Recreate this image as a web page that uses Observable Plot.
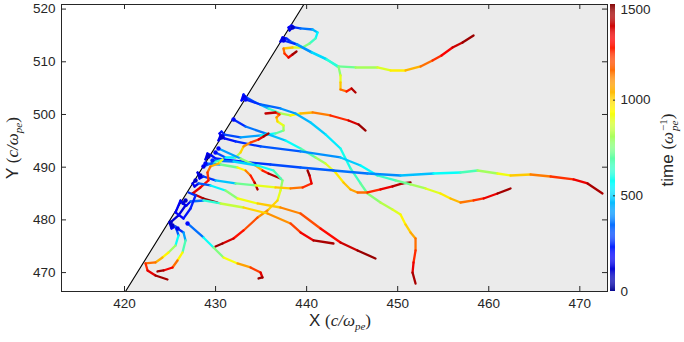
<!DOCTYPE html>
<html><head><meta charset="utf-8">
<script src="https://cdn.jsdelivr.net/npm/d3@7"></script>
<script src="https://cdn.jsdelivr.net/npm/@observablehq/plot@0.6"></script>
<style>
body{margin:0;background:#fff;}
#wrap{position:relative;width:684px;height:342px;overflow:hidden;font-family:"Liberation Sans",Arial,sans-serif;color:#262626;}
#wrap svg{position:absolute;top:0;overflow:visible;}
.lab{position:absolute;white-space:nowrap;font-size:17px;line-height:19px;}
.m{font-family:"Liberation Serif","Times New Roman",serif;font-size:17px;}
.i{font-style:italic;}
.sub{font-size:11px;position:relative;top:4px;}
.stack{display:inline-block;vertical-align:middle;font-size:11px;line-height:11px;text-align:left;margin-left:1px;}
.stack span{display:block;}
</style></head>
<body>
<div id="wrap"></div>
<script>
// axis settings
const xDomain = [413.08, 473.04];
const yDomain = [466.41, 520.87];
const xTicks = [420, 430, 440, 450, 460, 470];
const yTicks = [470, 480, 490, 500, 510, 520];
const cTicks = [0, 500, 1000, 1500];
const timeDomain = [0, 1500];

// boundary line (right side shaded)
const boundaryX = [420.11, 439.69];
const boundaryY = [466.41, 520.87];

// jet colormap stops
const jetStops = [0, 187.5, 562.5, 937.5, 1312.5, 1500];
const jetColors = ["#00008f", "#0000ff", "#00ffff", "#ffff00", "#ff0000", "#800000"];

// trajectories: [x, y, time]
const trajA = [[438.45,516.51,100],[438.12,515.94,130],[438.01,516.51,160],[438.34,516.89,190],[438.67,516.51,220],[439.33,516.32,300],[440.65,516.13,420],[441.20,515.56,500],[440.98,514.42,600],[440.32,513.47,700],[439.55,512.71,800],[438.45,512.71,950],[437.46,512.52,1100],[437.57,511.57,1200],[438.01,510.82,1300],[438.45,511.39,1400],[438.89,511.96,1500]];
const trajB = [[437.46,514.23,100],[437.13,513.85,130],[437.35,514.61,160],[437.79,514.42,200],[438.23,513.85,300],[439.00,513.28,400],[440.43,511.95,480],[442.07,510.62,560],[443.39,509.11,680],[445.37,508.92,760],[447.78,508.92,850],[449.21,508.35,920],[450.86,508.35,1000],[452.51,509.11,1100],[453.82,510.25,1200],[454.81,511.20,1280],[456.02,512.71,1360],[457.12,513.66,1420],[458.33,514.99,1500]];
const trajC = [[437.46,514.04,150],[438.89,513.28,350],[440.54,511.77,450],[442.18,510.44,560],[443.50,509.11,680],[443.72,507.40,850],[443.72,506.07,950],[443.72,504.74,1100],[444.38,504.37,1200],[444.93,504.93,1350],[445.37,504.17,1500]];
const trajD = [[430.76,495.82,150],[430.43,496.40,180],[430.65,496.77,210],[430.98,496.20,240],[432.74,495.64,350],[434.94,496.02,500],[436.58,496.40,650],[437.46,496.96,750],[437.46,497.91,850],[436.80,498.67,950],[436.69,499.43,1050],[437.02,500.00,1150],[436.58,500.38,1300],[435.48,500.19,1500]];
const trajE = [[433.18,503.22,150],[432.85,502.66,180],[433.07,503.80,210],[433.40,503.22,240],[434.39,502.28,350],[435.81,501.14,550],[437.13,500.19,750],[438.23,499.81,880],[439.33,500.19,1000],[440.65,500.38,1080],[442.62,499.81,1180],[444.60,498.86,1330],[445.70,498.10,1420],[446.47,496.96,1500]];
const trajF = [[433.29,502.85,200],[434.94,501.90,300],[437.13,501.14,380],[438.78,500.19,430],[440.43,498.48,470],[442.07,496.21,510],[443.72,493.55,560],[444.82,489.76,620],[445.92,486.91,680],[446.69,485.01,740],[448.11,483.30,800],[449.43,481.97,860],[450.31,481.03,920],[450.86,479.13,980],[451.41,477.61,1030],[451.96,476.47,1100],[451.96,474.19,1200],[451.74,471.91,1300],[451.63,470.01,1380],[451.96,467.92,1500]];
const trajG = [[429.22,492.03,100],[428.89,491.46,130],[429.11,492.60,160],[429.55,492.22,190],[429.99,491.65,220],[432.74,491.08,250],[436.03,490.51,280],[439.33,489.94,310],[442.95,489.37,340],[446.69,488.80,370],[450.31,488.42,420],[453.93,488.80,520],[456.90,488.99,620],[458.77,489.37,720],[460.96,488.80,880],[462.39,488.42,950],[464.59,488.61,1080],[466.79,488.23,1180],[469.31,487.67,1300],[470.85,486.91,1380],[472.49,485.01,1500]];
const trajH = [[430.65,495.64,100],[430.32,495.07,130],[430.54,496.02,160],[430.98,495.45,190],[432.19,494.88,230],[434.94,493.93,280],[439.33,492.98,350],[443.72,491.84,450],[445.92,490.32,520],[447.78,488.42,600],[449.76,487.48,680],[451.41,486.72,760],[453.06,485.96,850],[454.70,485.01,930],[455.80,484.06,1000],[456.90,483.30,1080],[458.33,483.68,1200],[459.43,484.06,1280],[460.96,485.01,1400],[462.39,485.96,1500]];
const trajI = [[431.97,499.05,200],[433.29,497.72,300],[435.48,496.40,420],[437.68,495.07,520],[439.33,493.55,620],[440.98,491.84,750],[442.07,490.70,850],[443.17,488.99,930],[444.05,487.10,1000],[444.82,485.77,1050],[445.59,485.20,1100],[446.69,485.20,1200],[448.11,485.77,1300],[449.43,486.34,1380],[450.53,486.91,1450],[451.41,487.10,1500]];
const trajJ = [[428.34,488.42,100],[428.02,488.99,130],[428.24,487.86,160],[428.67,488.23,190],[429.99,487.48,350],[432.19,486.91,600],[434.39,486.53,850],[436.58,486.15,950],[438.23,485.96,1080],[439.55,486.15,1200],[440.54,486.91,1300],[440.32,488.42,1400],[440.10,489.37,1500]];
const trajK = [[429.99,492.79,200],[431.09,491.84,400],[432.19,491.84,700],[432.74,492.79,950],[433.07,493.93,1050],[433.84,494.69,1150],[434.72,495.26,1300],[435.27,495.82,1400],[435.81,496.40,1500]];
const trajM = [[428.67,490.13,150],[429.77,490.89,500],[430.76,491.46,800],[430.32,490.70,1000],[429.44,490.13,1100],[429.11,488.99,1200],[429.22,487.48,1270],[428.34,486.15,1330],[427.47,485.01,1380],[428.67,484.06,1440],[430.21,483.30,1500]];
const trajL = [[427.80,487.48,100],[427.47,486.91,130],[427.69,486.34,160],[428.13,486.91,190],[429.44,486.53,450],[431.09,485.58,650],[432.41,484.06,880],[434.61,483.11,950],[437.13,482.35,1080],[439.33,481.21,1150],[441.52,478.37,1250],[443.72,475.71,1350],[445.59,474.19,1430],[447.56,472.68,1500]];
const trajN = [[426.70,483.68,100],[426.37,483.11,130],[426.81,482.73,160],[427.25,483.49,190],[428.67,483.68,500],[430.54,483.11,750],[433.07,482.35,950],[435.70,481.21,1050],[438.23,479.32,1150],[439.33,477.61,1280],[440.76,476.09,1380],[442.95,475.52,1500]];
const trajP = [[429.66,491.27,250],[431.97,491.08,450],[434.61,490.32,550],[436.36,489.37,620],[437.35,487.48,720],[437.13,485.58,850],[436.80,483.68,950],[435.70,481.78,1050],[434.61,480.45,1150],[433.07,477.99,1250],[431.97,476.47,1330],[430.76,475.52,1420],[429.99,474.95,1500]];
const trajQ = [[425.27,478.94,100],[424.94,479.51,130],[425.16,478.37,160],[425.60,478.75,190],[425.93,477.04,450],[425.60,475.14,700],[424.83,473.81,900],[424.17,472.87,1000],[423.40,471.92,1100],[422.31,471.73,1200],[422.53,470.40,1300],[423.40,469.45,1400],[424.72,468.69,1500]];
const trajR = [[425.82,478.37,150],[426.48,477.61,350],[426.70,476.09,500],[426.37,473.81,850],[425.82,472.30,1050],[425.27,470.96,1250],[424.28,470.40,1400],[423.62,470.21,1500]];
const trajS = [[426.92,479.32,200],[428.67,476.66,500],[429.77,474.76,650],[430.87,472.87,850],[432.41,471.73,1000],[433.84,470.97,1150],[434.94,470.02,1300],[435.15,469.07,1420],[434.72,468.88,1500]];
const trajT = [[428.89,490.70,200],[430.54,490.51,600],[432.41,489.94,850],[433.29,489.37,1050],[433.84,488.42,1200],[434.28,487.10,1350],[434.61,485.77,1500]];
const trajU = [[430.32,493.55,200],[432.74,491.65,650],[434.39,490.32,900],[435.15,489.37,1200],[435.81,488.80,1350],[437.13,487.86,1500]];
const trajV = [[425.05,479.51,100],[425.93,480.84,120],[426.70,482.73,140],[426.15,483.68,160],[425.60,481.41,180],[426.48,480.27,200],[427.25,482.16,220],[427.80,484.63,240],[427.03,485.20,260]];

const trajectories = [trajA, trajB, trajC, trajE, trajF, trajD, trajI, trajH, trajG, trajK, trajU, trajT, trajP, trajJ, trajM, trajL, trajN, trajS, trajR, trajQ, trajV];

const segs = trajectories.flatMap(tr => tr.slice(1).map((p, i) => ({
  x1: tr[i][0], y1: tr[i][1], x2: p[0], y2: p[1], t: (tr[i][2] + p[2]) / 2
})));
const starts = trajectories.map(tr => tr[0]);
const boundary = boundaryX.map((x, i) => ({x, y: boundaryY[i]}));

const colorScale = {type: "linear", domain: jetStops, range: jetColors, clamp: true};
const INK = "#262626";
const FONT = "'Liberation Sans', Arial, sans-serif";

const main = Plot.plot({
  width: 684, height: 342,
  marginLeft: 61, marginRight: 77, marginTop: 4, marginBottom: 51,
  style: {fontFamily: FONT, fontSize: "13.5px", color: INK, background: "transparent"},
  x: {domain: xDomain, label: null},
  y: {domain: yDomain, label: null},
  color: colorScale,
  marks: [
    Plot.areaX(boundary, {y: "y", x1: "x", x2: () => xDomain[1], fill: "#ebebeb"}),
    Plot.line(boundary, {x: "x", y: "y", stroke: "#000", strokeWidth: 1.1}),
    Plot.link(segs, {x1: "x1", y1: "y1", x2: "x2", y2: "y2", stroke: "t", strokeWidth: 2.3, strokeLinecap: "round"}),
    Plot.dot(starts, {x: d => d[0], y: d => d[1], fill: d => d[2], r: 2.2, stroke: null}),
    Plot.frame({stroke: INK, strokeWidth: 1}),
    Plot.tickX(xTicks, {x: d => d, insetTop: 282, stroke: INK}),
    Plot.tickX(xTicks, {x: d => d, insetBottom: 282, stroke: INK}),
    Plot.tickY(yTicks, {y: d => d, insetRight: 541, stroke: INK}),
    Plot.tickY(yTicks, {y: d => d, insetLeft: 541, stroke: INK}),
    Plot.axisX({ticks: xTicks, anchor: "bottom", tickSize: 0, tickPadding: 7, label: null, fontSize: 13.5}),
    Plot.axisY({ticks: yTicks, anchor: "left", tickSize: 0, tickPadding: 6, label: null, fontSize: 13.5})
  ]
});

const cbSteps = d3.range(0, 1500, 5);
const cbar = Plot.plot({
  width: 84, height: 342,
  marginLeft: 10, marginRight: 69, marginTop: 4, marginBottom: 51,
  style: {fontFamily: FONT, fontSize: "13.5px", color: INK, background: "transparent"},
  x: {domain: [0, 1], axis: null},
  y: {domain: timeDomain, axis: null},
  color: colorScale,
  marks: [
    Plot.rect(cbSteps, {x1: () => 0, x2: () => 1, y1: d => d, y2: d => d + 5, fill: d => d + 2.5}),
    Plot.tickY(cTicks.slice(1, 3), {y: d => d, insetLeft: 3, stroke: INK}),
    Plot.text(cTicks.slice(0, 3), {y: d => d, x: () => 1, text: d => String(d), dx: 5, textAnchor: "start", fill: INK, fontSize: 13.5}),
    Plot.text(cTicks.slice(3), {y: d => d, x: () => 1, text: d => String(d), dx: 5, dy: 5, textAnchor: "start", fill: INK, fontSize: 13.5})
  ]
});
cbar.style.left = "600px";

const wrap = document.getElementById("wrap");
wrap.appendChild(main);
wrap.appendChild(cbar);

function addLabel(html, css) {
  const d = document.createElement("div");
  d.className = "lab";
  d.innerHTML = html;
  Object.assign(d.style, css);
  wrap.appendChild(d);
}
addLabel('X <span class="m">(<span class="i">c/ω<span class="sub">pe</span></span>)</span>',
  {left: "340px", top: "311px", transform: "translate(-50%,0)"});
addLabel('Y <span class="m">(<span class="i">c/ω<span class="sub">pe</span></span>)</span>',
  {left: "13px", top: "148px", transform: "translate(-50%,-50%) rotate(-90deg)"});
addLabel('time <span class="m">(<span class="i">ω</span><span class="stack"><span>−1</span><span class="i">pe</span></span>)</span>',
  {left: "669px", top: "150px", transform: "translate(-50%,-50%) rotate(-90deg)"});
</script>
</body></html>
